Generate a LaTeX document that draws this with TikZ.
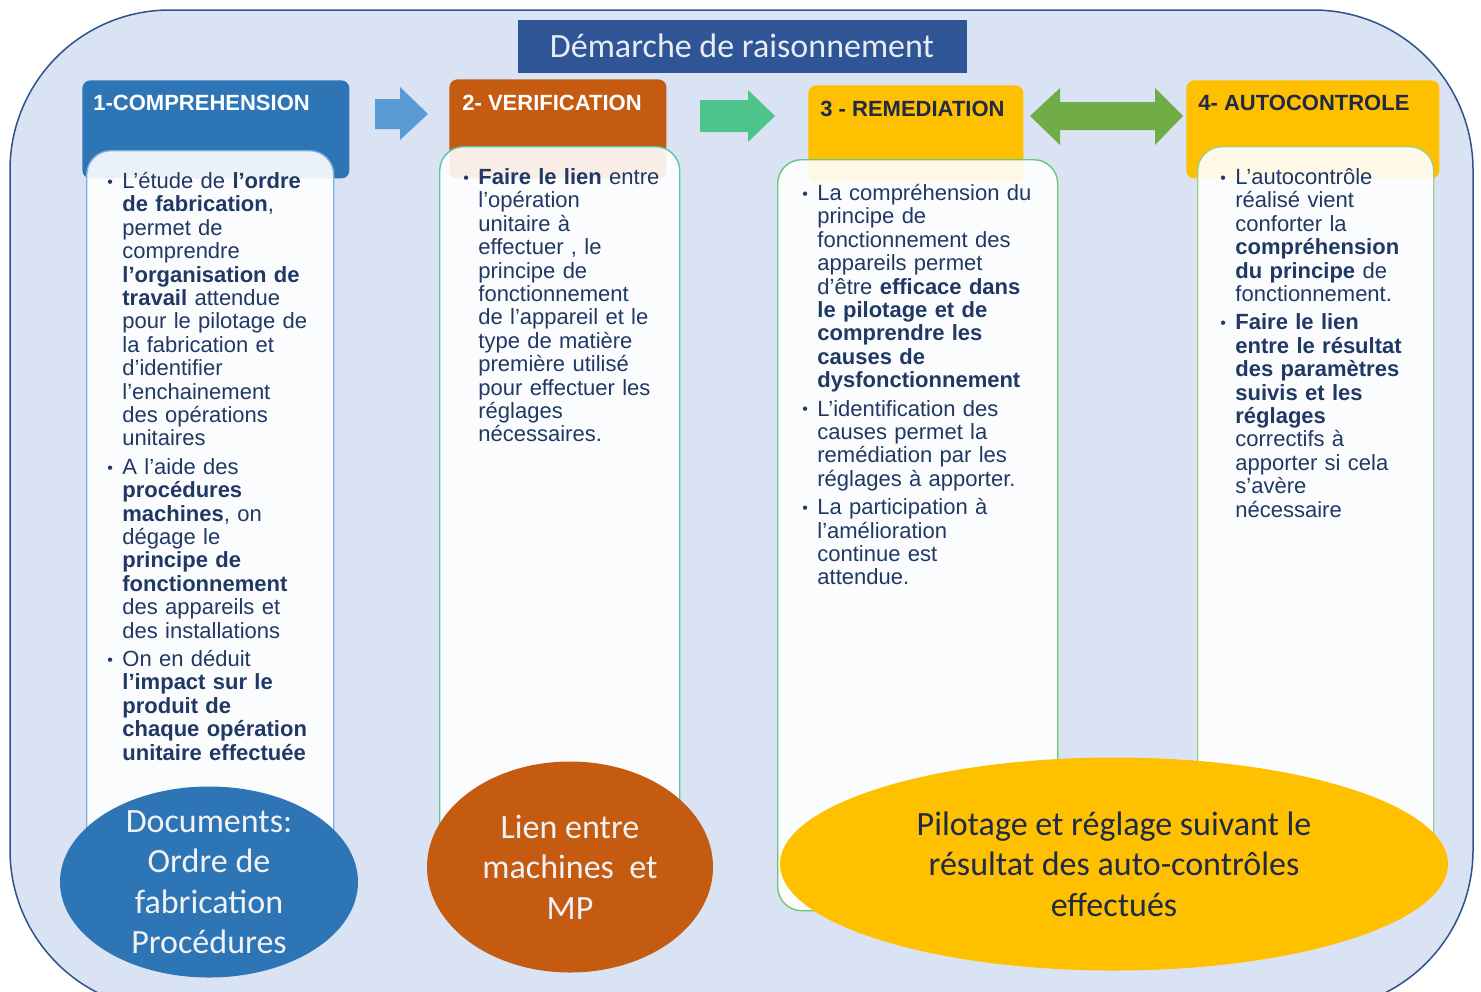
\documentclass[tikz,border=0pt]{standalone}
\usepackage{fontspec}
\setmainfont{Liberation Sans}
\newfontfamily\calibri{Carlito}
\usetikzlibrary{shapes.geometric,positioning}
\definecolor{fondbleu}{RGB}{218,227,243}
\definecolor{cadrebleu}{RGB}{47,82,143}
\definecolor{titrebleu}{RGB}{47,85,151}
\definecolor{bleuetape}{RGB}{46,117,182}
\definecolor{bleuclair}{RGB}{91,155,213}
\definecolor{orangeetape}{RGB}{197,90,17}
\definecolor{jauneetape}{RGB}{255,192,0}
\definecolor{vertflux}{RGB}{76,196,140}
\definecolor{vertdouble}{RGB}{112,173,71}
\definecolor{encre}{RGB}{32,56,100}
\definecolor{encrefonce}{RGB}{30,42,70}
\definecolor{bordteal}{RGB}{88,200,168}
\definecolor{bordvert}{RGB}{110,198,120}
\definecolor{bordvertclair}{RGB}{160,206,130}

\newcommand{\puce}{\par\leftskip=7.5pt\noindent\llap{\makebox[7.5pt][l]{\raisebox{0.6pt}{\fontsize{8}{8}\selectfont\textbullet}}}}
\newcommand{\sautpuce}{\par\vspace{2.5pt}}

\begin{document}
\begin{tikzpicture}[
    x=0.5pt, y=-0.5pt,
    entete/.style={rounded corners=4pt, inner sep=0pt, anchor=north west},
    htexte/.style={anchor=west, inner sep=0pt, font=\fontsize{11}{13}\selectfont\bfseries},
    corps/.style={draw, line width=0.7pt, rounded corners=12pt, fill=white, fill opacity=0.9, inner sep=0pt, anchor=north west},
    texte/.style={anchor=base west, inner sep=0pt, text width=#1, align=left, text=encre, font=\fontsize{11}{11.7}\selectfont},
    bulle/.style={ellipse, inner sep=0pt},
    btexte/.style={align=center, inner sep=0pt, font=\calibri\fontsize{17}{20.25}\selectfont}
]

% Page and frame
\useasboundingbox (0,0) rectangle (1481,991);
\fill[white] (0,0) rectangle (1481,991);
\clip (0,0) rectangle (1481,991);
\draw[fill=fondbleu, draw=cadrebleu, line width=0.75pt, rounded corners=80pt] (10,10) rectangle (1473,1010);

% Title
\node[fill=titrebleu, minimum width=224.5pt, minimum height=26.5pt, inner sep=0pt,
      text={rgb,255:red,232;green,236;blue,243}, font=\calibri\fontsize{17}{20}\selectfont] (titre) at (742,46) {Démarche de raisonnement};

% Headers
\node[entete, fill=bleuetape, minimum width=133.5pt, minimum height=49pt] (h1) at (82,80) {};
\node[entete, fill=orangeetape, minimum width=108.5pt, minimum height=49.5pt] (h2) at (449,79) {};
\node[entete, fill=jauneetape, minimum width=107.5pt, minimum height=48.5pt] (h3) at (808,85) {};
\node[entete, fill=jauneetape, minimum width=126.5pt, minimum height=49pt] (h4) at (1186,80) {};

\node[htexte, text=white] (t1) at ([shift={(5.5pt,-11.5pt)}]h1.north west) {1-COMPREHENSION};
\node[htexte, text=white] (t2) at ([shift={(6.5pt,-12pt)}]h2.north west) {2- VERIFICATION};
\node[htexte, text=encrefonce] (t3) at ([shift={(6pt,-12pt)}]h3.north west) {3 - REMEDIATION};
\node[htexte, text=encrefonce] (t4) at ([shift={(6pt,-11.5pt)}]h4.north west) {4- AUTOCONTROLE};

% Block arrows
\fill[bleuclair] (375,99) -- (400,99) -- (400,87) -- (428,114) -- (400,140) -- (400,129) -- (375,129) -- cycle;
\fill[vertflux] (700,100) -- (748,100) -- (748,90) -- (775,116) -- (748,142) -- (748,132) -- (700,132) -- cycle;
\fill[vertdouble] (1030,116) -- (1060,88) -- (1060,102) -- (1155,102) -- (1155,88) -- (1183,116)
    -- (1155,145) -- (1155,130) -- (1060,130) -- (1060,145) -- cycle;

% Bodies
\node[corps, draw=bleuclair!80, minimum width=123.5pt, minimum height=365pt] (b1) at (86,150) {};
\node[corps, draw=bordteal, minimum width=120pt, minimum height=367pt] (b2) at (439,146) {};
\node[corps, draw=bordvert, minimum width=140pt, minimum height=375.5pt] (b3) at (777,159) {};
\node[corps, draw=bordvertclair, minimum width=118pt, minimum height=367pt] (b4) at (1197,146) {};

% Column texts
\node[texte=110pt] (c1) at (107,165) {%
\puce L’étude de \textbf{l’ordre}\\
\textbf{de fabrication},\\
permet de\\
comprendre\\
\textbf{l’organisation de}\\
\textbf{travail} attendue\\
pour le pilotage de\\
la fabrication et\\
d’identifier\\
l'enchainement\\
des opérations\\
unitaires
\sautpuce
\puce A l'aide des\\
\textbf{procédures}\\
\textbf{machines}, on\\
dégage le\\
\textbf{principe de}\\
\textbf{fonctionnement}\\
des appareils et\\
des installations
\sautpuce
\puce On en déduit\\
\textbf{l’impact sur le}\\
\textbf{produit de}\\
\textbf{chaque opération}\\
\textbf{unitaire effectuée}\par};

\node[texte=110pt] (c2) at (463,161) {%
\puce \textbf{Faire le lien} entre\\
l'opération\\
unitaire à\\
effectuer , le\\
principe de\\
fonctionnement\\
de l'appareil et le\\
type de matière\\
première utilisé\\
pour effectuer les\\
réglages\\
nécessaires.\par};

\node[texte=125pt] (c3) at (802,177) {%
\puce La compréhension du\\
principe de\\
fonctionnement des\\
appareils permet\\
d'être \textbf{efficace dans}\\
\textbf{le pilotage et de}\\
\textbf{comprendre les}\\
\textbf{causes de}\\
\textbf{dysfonctionnement}
\sautpuce
\puce L'identification des\\
causes permet la\\
remédiation par les\\
réglages à apporter.
\sautpuce
\puce La participation à\\
l'amélioration\\
continue est\\
attendue.\par};

\node[texte=110pt] (c4) at (1220,161) {%
\puce L'autocontrôle\\
réalisé vient\\
conforter la\\
\textbf{compréhension}\\
\textbf{du principe} de\\
fonctionnement.
\sautpuce
\puce \textbf{Faire le lien}\\
\textbf{entre le résultat}\\
\textbf{des paramètres}\\
\textbf{suivis et les}\\
\textbf{réglages}\\
correctifs à\\
apporter si cela\\
s'avère\\
nécessaire\par};

% Bubbles
\node[bulle, fill=bleuetape, minimum width=149pt, minimum height=95.5pt] (e1) at (209,882) {};
\node[bulle, fill=orangeetape, minimum width=143pt, minimum height=105.5pt] (e2) at (570,867) {};
\node[bulle, fill=jauneetape, minimum width=334pt, minimum height=106.5pt] (e3) at (1114,864) {};

\node[btexte, text={rgb,255:red,240;green,242;blue,246}] (et1) at (e1) {Documents:\\Ordre de\\fabrication\\Procédures};
\node[btexte, text={rgb,255:red,240;green,242;blue,246}] (et2) at (e2) {Lien entre\\machines\ \ et\\MP};
\node[btexte, text=encrefonce] (et3) at (e3) {Pilotage et réglage suivant le\\résultat des auto-contrôles\\effectués};

\end{tikzpicture}
\end{document}
